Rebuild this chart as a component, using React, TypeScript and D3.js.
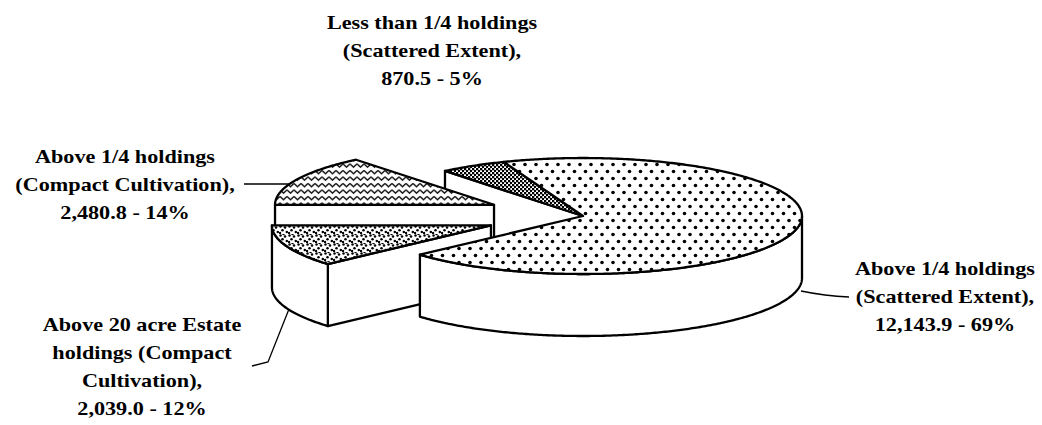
import React, { useEffect, useRef } from "react";
import * as d3 from "d3";

// slices in clockwise order, starting at 9 o'clock
const categories = [
  "Above 1/4 holdings (Compact Cultivation)",
  "Less than 1/4 holdings (Scattered Extent)",
  "Above 1/4 holdings (Scattered Extent)",
  "Above 20 acre Estate holdings (Compact Cultivation)",
];
const values = [2480.8, 870.5, 12143.9, 2039.0];
const exploded = [true, false, false, true];
const labelLines = [
  ["Above 1/4 holdings", "(Compact Cultivation),"],
  ["Less than 1/4 holdings", "(Scattered Extent),"],
  ["Above 1/4 holdings", "(Scattered Extent),"],
  ["Above 20 acre Estate", "holdings (Compact", "Cultivation),"],
];
const patternIds = ["wavy", "checker", "sparse", "fine"];

export default function App() {
  const svgRef = useRef<SVGSVGElement>(null);
  const width = 1042;
  const height = 425;

  useEffect(() => {
    const svg = d3.select(svgRef.current);
    svg.selectAll("*").remove();

    const cx = 583, cy = 216, rx = 219, ry = 58, depth = 62;
    const explode = 0.45;

    const defs = svg.append("defs");
    const wavy = defs.append("pattern").attr("id", "wavy").attr("patternUnits", "userSpaceOnUse")
      .attr("width", 7).attr("height", 6.5);
    wavy.append("rect").attr("width", 7).attr("height", 6.5).attr("fill", "#fff");
    wavy.append("path").attr("d", "M0,1.5 L3.5,4.6 L7,1.5").attr("fill", "none")
      .attr("stroke", "#000").attr("stroke-width", 1.4);

    const checker = defs.append("pattern").attr("id", "checker").attr("patternUnits", "userSpaceOnUse")
      .attr("width", 4).attr("height", 4);
    checker.append("rect").attr("width", 4).attr("height", 4).attr("fill", "#fff");
    checker.append("rect").attr("width", 2.3).attr("height", 2.3).attr("fill", "#000");
    checker.append("rect").attr("x", 2).attr("y", 2).attr("width", 2.3).attr("height", 2.3).attr("fill", "#000");

    const sparse = defs.append("pattern").attr("id", "sparse").attr("patternUnits", "userSpaceOnUse")
      .attr("width", 11).attr("height", 14);
    sparse.append("rect").attr("width", 11).attr("height", 14).attr("fill", "#fff");
    [[2.5, 3.5], [8, 10.5]].forEach(([x, y]) =>
      sparse.append("circle").attr("cx", x).attr("cy", y).attr("r", 1.8).attr("fill", "#000"));

    const fine = defs.append("pattern").attr("id", "fine").attr("patternUnits", "userSpaceOnUse")
      .attr("width", 9).attr("height", 9);
    fine.append("rect").attr("width", 9).attr("height", 9).attr("fill", "#fff");
    [[1.5, 1.5], [6, 2.5], [3.5, 5.2], [7.8, 7], [1, 8], [4.5, 0]].forEach(([x, y]) =>
      fine.append("circle").attr("cx", x).attr("cy", y).attr("r", 1.25).attr("fill", "#000"));

    const pie = d3.pie<number>().sort(null).value(d => d)
      .startAngle(1.5 * Math.PI).endAngle(3.5 * Math.PI);
    const arcs = pie(values);

    // offsets of the exploded slices, in screen px
    const offsets = arcs.map((a, i) => {
      if (!exploded[i]) return [0, 0];
      const mid = (a.startAngle + a.endAngle) / 2 - Math.PI / 2;
      return [explode * rx * Math.cos(mid), explode * ry * Math.sin(mid)];
    });

    const pt = (o: number[], t: number, r = 1, dz = 0): [number, number] =>
      [cx + o[0] + rx * r * Math.cos(t), cy + o[1] + ry * r * Math.sin(t) + dz];

    const rim = (o: number[], s: number, e: number, dz = 0) => {
      const n = Math.max(2, Math.ceil((e - s) / 0.01));
      return d3.range(n + 1).map(k => pt(o, s + (e - s) * k / n, 1, dz));
    };

    const line = d3.line().curve(d3.curveLinear);
    const g = svg.append("g")
      .attr("stroke", "#000").attr("stroke-width", 2.3).attr("stroke-linejoin", "round");

    const n = values.length;
    const drawOrder = [1, 0, 3, 2];

    drawOrder.forEach(i => {
      const a0 = arcs[i].startAngle - Math.PI / 2;
      const a1 = arcs[i].endAngle - Math.PI / 2;
      const o = offsets[i];
      const prev = (i + n - 1) % n, next = (i + 1) % n;
      const same = (j: number) => offsets[j][0] === o[0] && offsets[j][1] === o[1];

      const face = (t: number) => {
        const c = pt(o, t, 0), r = pt(o, t);
        g.append("path").attr("fill", "#fff")
          .attr("d", line([c, r, [r[0], r[1] + depth], [c[0], c[1] + depth]]) + "Z");
      };
      if (Math.cos(a0) < 0 && !same(prev)) face(a0);
      if (Math.cos(a1) > 0 && !same(next)) face(a1);

      for (let k = -1; k <= 2; k++) {
        const s = Math.max(a0, 2 * Math.PI * k);
        const e = Math.min(a1, 2 * Math.PI * k + Math.PI);
        if (e > s) {
          const pts = rim(o, s, e).concat(rim(o, s, e, depth).reverse());
          g.append("path").attr("fill", "#fff").attr("d", line(pts) + "Z");
        }
      }

      const top = [pt(o, 0, 0) as [number, number]].concat(rim(o, a0, a1));
      g.append("path").attr("fill", `url(#${patternIds[i]})`).attr("d", line(top) + "Z");
    });

    // leader lines
    const leaders = [
      "M244,184 L290,184",
      "M801,291 Q825,296 849,297",
      "M289,309 L268,362 L252,366",
    ];
    svg.append("g").attr("fill", "none").attr("stroke", "#000").attr("stroke-width", 1.3)
      .selectAll("path").data(leaders).join("path").attr("d", d => d);

    // labels
    const total = d3.sum(values);
    const fmt = d3.format(",.1f");
    const labelPos = [[125, 163], [432, 29], [945, 275], [142, 331]];
    const lineH = 28;
    labelLines.forEach((lines, i) => {
      const all = lines.concat(`${fmt(values[i])} - ${Math.round(values[i] / total * 100)}%`);
      all.forEach((txt, j) => {
        svg.append("text")
          .attr("transform", `translate(${labelPos[i][0]},${labelPos[i][1] + j * lineH}) scale(1.2,1)`)
          .attr("text-anchor", "middle")
          .attr("font-family", "'Liberation Serif', 'Times New Roman', serif")
          .attr("font-weight", "bold")
          .attr("font-size", 18.5)
          .attr("fill", "#000")
          .text(txt);
      });
    });
  }, []);

  return (
    <svg ref={svgRef} width={width} height={height}
      style={{ position: "absolute", left: 0, top: 0, background: "#fff" }}>
    </svg>
  );
}
